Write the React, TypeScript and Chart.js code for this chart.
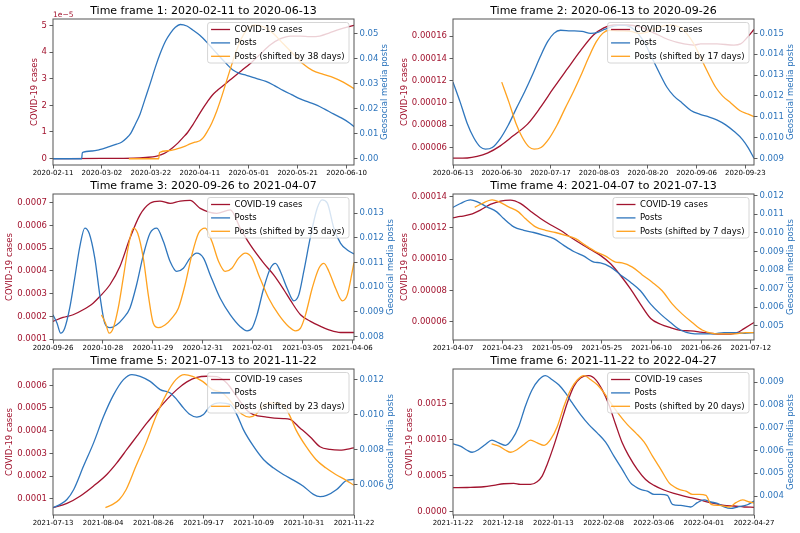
import React, { useEffect, useRef } from "react";
import { Chart, registerables } from "chart.js";

Chart.register(...registerables);
Chart.defaults.font.family = "'DejaVu Sans', sans-serif";

// ---------------- DATA ----------------
const startDates = ["2020-02-11", "2020-06-13", "2020-09-26", "2021-04-07", "2021-07-13", "2021-11-22"];
const endDates = ["2020-06-13", "2020-09-26", "2021-04-07", "2021-07-13", "2021-11-22", "2022-04-27"];
const shiftDays = [38, 17, 35, 7, 23, 20];
const leftAxisTitle = "COVID-19 cases";
const rightAxisTitle = "Geosocial media posts";

const xLabels1 = ["2020-02-11", "2020-03-02", "2020-03-22", "2020-04-11", "2020-05-01", "2020-05-21", "2020-06-10"];
const xLabels2 = ["2020-06-13", "2020-06-30", "2020-07-17", "2020-08-03", "2020-08-20", "2020-09-06", "2020-09-23"];
const xLabels3 = ["2020-09-26", "2020-10-28", "2020-11-29", "2020-12-31", "2021-02-01", "2021-03-05", "2021-04-06"];
const xLabels4 = ["2021-04-07", "2021-04-23", "2021-05-09", "2021-05-25", "2021-06-10", "2021-06-26", "2021-07-12"];
const xLabels5 = ["2021-07-13", "2021-08-04", "2021-08-26", "2021-09-17", "2021-10-09", "2021-10-31", "2021-11-22"];
const xLabels6 = ["2021-11-22", "2021-12-18", "2022-01-13", "2022-02-08", "2022-03-06", "2022-04-01", "2022-04-27"];

// cases values are in the panel's unit (see casesUnit), posts in units of 1e-3
const casesUnit = [1e-5, 1e-5, 1e-4, 1e-5, 1e-4, 1e-4];

const casesTicks1 = [0, 1, 2, 3, 4, 5];
const casesTickLabels1 = ["0", "1", "2", "3", "4", "5"];
const postsTicks1 = [0, 10, 20, 30, 40, 50];
const postsTickLabels1 = ["0.00", "0.01", "0.02", "0.03", "0.04", "0.05"];
const casesTicks2 = [6, 8, 10, 12, 14, 16];
const casesTickLabels2 = ["0.00006", "0.00008", "0.00010", "0.00012", "0.00014", "0.00016"];
const postsTicks2 = [9, 10, 11, 12, 13, 14, 15];
const postsTickLabels2 = ["0.009", "0.010", "0.011", "0.012", "0.013", "0.014", "0.015"];
const casesTicks3 = [1, 2, 3, 4, 5, 6, 7];
const casesTickLabels3 = ["0.0001", "0.0002", "0.0003", "0.0004", "0.0005", "0.0006", "0.0007"];
const postsTicks3 = [8, 9, 10, 11, 12, 13];
const postsTickLabels3 = ["0.008", "0.009", "0.010", "0.011", "0.012", "0.013"];
const casesTicks4 = [6, 8, 10, 12, 14];
const casesTickLabels4 = ["0.00006", "0.00008", "0.00010", "0.00012", "0.00014"];
const postsTicks4 = [5, 6, 7, 8, 9, 10, 11, 12];
const postsTickLabels4 = ["0.005", "0.006", "0.007", "0.008", "0.009", "0.010", "0.011", "0.012"];
const casesTicks5 = [1, 2, 3, 4, 5, 6];
const casesTickLabels5 = ["0.0001", "0.0002", "0.0003", "0.0004", "0.0005", "0.0006"];
const postsTicks5 = [6, 8, 10, 12];
const postsTickLabels5 = ["0.006", "0.008", "0.010", "0.012"];
const casesTicks6 = [0, 5, 10, 15];
const casesTickLabels6 = ["0.0000", "0.0005", "0.0010", "0.0015"];
const postsTicks6 = [4, 5, 6, 7, 8, 9];
const postsTickLabels6 = ["0.004", "0.005", "0.006", "0.007", "0.008", "0.009"];

const casesRange = [[-0.24, 5.24], [4.43, 17.54], [0.96, 7.38], [4.82, 14.17], [0.28, 6.72], [-0.42, 19.85]];
const postsRange = [[-2.5, 55.8], [8.68, 15.69], [7.86, 13.78], [4.24, 12.09], [4.25, 12.61], [3.17, 9.57]];

// [day offset from panel start, value]
const cases1 = [[0,0],[20,0.005],[33,0.02],[38,0.045],[42,0.08],[44,0.14],[46,0.22],[49,0.42],[51,0.58],[53,0.78],[55,0.98],[57,1.25],[59,1.55],[61,1.85],[63,2.12],[65,2.37],[67,2.55],[69,2.7],[71,2.85],[73,3.0],[77,3.3],[81,3.6],[85,3.95],[89,4.28],[93,4.5],[97,4.6],[101,4.6],[105,4.58],[109,4.6],[113,4.72],[117,4.85],[123,5.0]];
const posts1 = [[0,0],[11.7,0],[12,2.5],[16,3.1],[19,3.6],[23,4.8],[26,5.8],[28,6.6],[30,8.2],[31.6,9.9],[33.5,13.5],[35.6,17.9],[37.5,23.5],[39.7,30],[41.8,36.5],[43.8,42],[46,47],[48,50.2],[50,52.5],[52,53.6],[54.7,53],[57,51.5],[60,49.3],[63.5,45.8],[67,42],[70.5,38.3],[73.7,35.3],[76.5,34],[79,33.3],[83,32.1],[87,30.9],[90.5,29.2],[94,27.3],[97.5,25.6],[101,23.9],[104.5,22.6],[108,21.3],[111,19.8],[114.6,17.9],[118,16.2],[121,14.4],[123,12.8]];
const shifted1 = [[31,0],[43.2,0],[43.5,2.5],[47,3.2],[50.6,3.9],[53.5,4.8],[56,5.9],[58,6.6],[60,7.2],[61.5,8.5],[62.9,10.6],[65,14.5],[67,19.3],[69,25],[71,31.3],[73,37.5],[75,43.3],[77,48],[79,51.3],[81,53],[82.6,53.3],[86,52.7],[90,50],[94,46],[98,42],[102,38],[106,35.3],[110.5,33.7],[114.6,32.4],[118.6,30.6],[123,28]];

const cases2 = [[0,5.04],[5,5.06],[8.4,5.2],[12,5.5],[16.5,6.15],[21,7.05],[26,8.1],[30.5,9.6],[35,11.3],[40,13.1],[44.5,14.7],[49,16.1],[52.6,16.75],[56,17.0],[61,17.0],[65.4,16.8],[70,16.3],[75,15.7],[80.6,15.3],[84,15.2],[86.4,15.3],[92,15.3],[98,15.2],[100.3,15.3],[102.7,15.9],[105,16.6]];
const posts2 = [[0,12.66],[2.5,11.7],[4.9,10.7],[7.2,10.0],[9.5,9.55],[11.3,9.44],[13.7,9.52],[16.5,9.95],[19.3,10.6],[22.1,11.4],[25,12.2],[28,13.1],[30.5,13.9],[33,14.6],[35.2,15.0],[37.5,15.15],[41,15.12],[45,15.1],[48,15.0],[50.5,15.05],[53,15.2],[56,15.35],[59,15.4],[62,15.3],[64.5,15.0],[67,14.5],[69.5,13.8],[72,13.1],[74.7,12.4],[77,12.0],[80,11.65],[83,11.3],[86,11.12],[89,11.0],[92,10.85],[95,10.62],[98,10.3],[101,9.9],[103,9.5],[105,9.0]];
const shifted2 = [[17,12.66],[19.5,11.7],[21.9,10.7],[24.2,10.0],[26.5,9.55],[28.3,9.44],[30.7,9.52],[33.5,9.95],[36.3,10.6],[39.1,11.4],[42,12.2],[45,13.1],[47.5,13.9],[50,14.6],[52.2,15.0],[54.5,15.15],[58,15.12],[62,15.1],[65,15.0],[67.5,15.05],[70,15.2],[73,15.35],[76,15.4],[79,15.3],[81.5,15.0],[84,14.5],[86.5,13.8],[89,13.1],[91.7,12.4],[94,12.0],[97,11.65],[100,11.3],[103,11.12],[105,11.0]];

const cases3 = [[0,1.78],[6.4,1.95],[12.9,2.07],[19.3,2.29],[25.7,2.58],[30,2.87],[36.5,3.39],[42.9,4.19],[49.3,5.43],[55.8,6.46],[62.2,6.97],[68.6,7.07],[75.1,6.97],[81.5,7.07],[87.9,7.1],[94.4,6.75],[105,6.53],[113.7,6.68],[120.1,5.87],[126.5,5.14],[135.1,4.34],[141.5,3.82],[148,3.17],[152.3,2.7],[158.7,2.07],[165.1,1.78],[171.6,1.56],[178,1.38],[184.4,1.29],[193,1.29]];
const posts3 = [[0,8.88],[2.6,8.54],[4.9,8.14],[7.5,8.34],[10.7,9.15],[13.9,10.36],[17.2,11.65],[20.4,12.4],[23.2,12.19],[26.8,11.18],[30,9.69],[33.2,8.54],[36.5,8.36],[40.7,8.47],[45,8.74],[49.3,9.15],[53.6,10.1],[57.9,11.3],[62.2,12.19],[66.5,12.4],[70.8,11.85],[75.1,11.04],[79.3,10.64],[83.6,10.77],[87.9,11.18],[92.2,11.38],[96.5,11.18],[100.8,10.5],[107.2,9.55],[113.7,8.88],[120.1,8.4],[124.4,8.23],[127.6,8.34],[130.8,8.88],[135.1,9.96],[139.4,10.77],[142.6,10.97],[145.8,10.64],[150.1,9.96],[154.4,9.45],[157.6,9.69],[160.8,10.64],[165.1,12.05],[169.4,13.2],[172.6,13.54],[175.9,13.41],[180.1,12.39],[184.4,11.78],[188.7,11.51],[193,11.35]];
const shifted3 = [[31.1,8.88],[33.7,8.54],[36,8.14],[38.6,8.34],[41.8,9.15],[45,10.36],[48.3,11.65],[51.5,12.4],[54.3,12.19],[57.9,11.18],[61.1,9.69],[64.3,8.54],[67.6,8.36],[71.8,8.47],[76.1,8.74],[80.4,9.15],[84.7,10.1],[89,11.3],[93.3,12.19],[97.6,12.4],[101.9,11.85],[106.2,11.04],[110.4,10.64],[114.7,10.77],[119,11.18],[123.3,11.38],[127.6,11.18],[131.9,10.5],[138.3,9.55],[144.8,8.88],[151.2,8.4],[155.5,8.23],[158.7,8.34],[161.9,8.88],[166.2,9.96],[170.5,10.77],[173.7,10.97],[176.9,10.64],[181.2,9.96],[185.5,9.45],[188.7,9.69],[191.9,10.64],[193,11.0]];

const cases4 = [[0,12.65],[2.4,12.73],[5.6,12.86],[8.8,13.14],[12,13.5],[15.3,13.72],[18.5,13.78],[21.7,13.57],[24.9,13.08],[28.2,12.6],[31.4,12.2],[34.6,11.85],[37.8,11.42],[41.1,11.0],[44.3,10.62],[47.5,10.24],[50.8,9.7],[54,8.95],[57.2,8.09],[60.4,7.12],[63.7,6.2],[66.9,5.83],[70.1,5.61],[73.3,5.44],[76.6,5.4],[79.8,5.33],[83,5.25],[86.2,5.2],[89.5,5.2],[91.6,5.29],[93.8,5.55],[97,5.94]];
const posts4 = [[0,11.37],[2.4,11.58],[5.6,11.77],[7.7,11.68],[10.9,11.4],[14.1,11.13],[16.3,10.77],[19.6,10.32],[22.8,10.14],[26,10.02],[29.2,9.87],[32.5,9.69],[35.7,9.33],[38.9,9.0],[42.2,8.75],[45.4,8.43],[47.5,8.39],[50.8,8.16],[54,7.74],[57.2,7.35],[60.4,6.89],[63.7,6.17],[66.9,5.63],[70.1,5.18],[73.3,4.78],[76.6,4.6],[79.8,4.57],[84.1,4.57],[87.3,4.64],[90.5,4.64],[93.8,4.6],[97,4.64]];
const shifted4 = [[7,11.37],[9.4,11.58],[12.6,11.77],[14.7,11.68],[17.9,11.4],[21.1,11.13],[23.3,10.77],[26.6,10.32],[29.8,10.14],[33,10.02],[36.2,9.87],[39.5,9.69],[42.7,9.33],[45.9,9.0],[49.2,8.75],[52.4,8.43],[54.5,8.39],[57.8,8.16],[61,7.74],[64.2,7.35],[67.4,6.89],[70.7,6.17],[73.9,5.63],[77.1,5.18],[80.3,4.78],[83.6,4.6],[86.8,4.57],[91.1,4.57],[94.3,4.64],[97,4.64]];

const cases5 = [[0,0.6],[6.1,0.79],[12,1.12],[17.8,1.56],[23.6,2.07],[28,2.58],[32.4,3.17],[36.8,3.76],[41.2,4.34],[45.5,4.86],[49.9,5.37],[54.3,5.81],[58.7,6.15],[63.1,6.35],[67.4,6.4],[71.8,6.38],[76.2,6.1],[80.6,5.5],[85,4.9],[87.9,4.71],[93.7,4.6],[101,4.53],[103.9,4.5],[108.3,4.12],[112.7,3.73],[117.1,3.29],[121.5,3.17],[125.8,3.14],[132,3.24]];
const posts5 = [[0,4.67],[3.2,4.86],[6.1,5.14],[9.1,5.71],[13.4,7.05],[17.8,8.38],[22.2,9.9],[26.6,11.14],[30.9,12.0],[34.6,12.29],[38.2,12.19],[42.6,11.9],[47,11.43],[51.4,11.24],[54.3,10.86],[57.2,10.38],[60.1,10.0],[63.1,9.85],[66,10.0],[68.9,10.48],[73.3,10.67],[77.7,10.57],[80.6,10.0],[83.5,9.14],[87.9,8.19],[92.3,7.43],[96.6,6.95],[101,6.57],[105.4,6.25],[109.8,5.9],[114.2,5.43],[117.1,5.3],[120,5.37],[124.4,5.71],[128.8,6.23],[132,6.29]];
const shifted5 = [[23,4.67],[26.2,4.86],[29.1,5.14],[32.1,5.71],[36.4,7.05],[40.8,8.38],[45.2,9.9],[49.6,11.14],[53.9,12.0],[57.6,12.29],[61.2,12.19],[65.6,11.9],[70,11.43],[74.4,11.24],[77.3,10.86],[80.2,10.38],[83.1,10.0],[86.1,9.85],[89,10.0],[91.9,10.48],[96.3,10.67],[100.7,10.57],[103.6,10.0],[106.5,9.14],[110.9,8.19],[115.3,7.43],[119.6,6.95],[124,6.57],[128.4,6.25],[132,5.95]];

const cases6 = [[0,3.37],[7.3,3.4],[15.9,3.5],[21.1,3.69],[26.3,3.92],[31.5,3.97],[34.9,3.83],[40.1,3.83],[43.6,4.2],[46.2,4.98],[48.8,6.6],[52.2,9.14],[55.7,12.14],[59.2,15.14],[62.6,17.44],[66.1,18.6],[70.4,18.92],[73.9,18.37],[77.3,16.98],[80.8,14.9],[84.3,12.14],[87.7,9.6],[91.2,7.75],[95.5,5.91],[99.8,4.52],[104.2,3.69],[109.3,3.05],[114.5,2.58],[119.7,2.2],[124.9,1.89],[130.1,1.52],[135.3,1.2],[140.5,0.92],[145.7,0.83],[150.9,0.69],[156,0.65]];
const posts6 = [[0,6.29],[3.8,6.19],[7.3,6.01],[9.9,5.92],[13.3,6.04],[16.8,6.26],[20.2,6.45],[23.7,6.33],[27.2,6.22],[30.6,6.48],[34.1,7.06],[37.5,7.94],[41,8.66],[44.5,9.1],[47.9,9.28],[51.4,9.1],[54.8,8.88],[58.3,8.52],[61.8,8.08],[66.1,7.57],[70.4,7.13],[74.7,6.77],[79.1,6.36],[83.4,5.75],[87.7,5.17],[92,4.58],[94.6,4.41],[97.2,4.29],[100.7,4.22],[104.2,4.07],[107.6,4.07],[111.1,4.03],[113.7,3.64],[118,3.59],[123.2,3.52],[126.6,3.71],[130.1,3.83],[133.6,3.74],[137,3.68],[140.5,3.53],[143.9,3.46],[147.4,3.52],[152.6,3.62],[156,3.78]];
const shifted6 = [[20,6.29],[23.8,6.19],[27.3,6.01],[29.9,5.92],[33.3,6.04],[36.8,6.26],[40.2,6.45],[43.7,6.33],[47.2,6.22],[50.6,6.48],[54.1,7.06],[57.5,7.94],[61,8.66],[64.5,9.1],[67.9,9.28],[71.4,9.1],[74.8,8.88],[78.3,8.52],[81.8,8.08],[86.1,7.57],[90.4,7.13],[94.7,6.77],[99.1,6.36],[103.4,5.75],[107.7,5.17],[112,4.58],[114.6,4.41],[117.2,4.29],[120.7,4.22],[124.2,4.07],[127.6,4.07],[131.1,4.03],[133.7,3.64],[138,3.59],[143.2,3.52],[146.6,3.71],[150.1,3.83],[153.6,3.74],[156,3.7]];

// ---------------- TABLE ----------------
const PANELS = [
  { xl: xLabels1, c: cases1, p: posts1, s: shifted1, ct: casesTicks1, cl: casesTickLabels1, pt: postsTicks1, pl: postsTickLabels1, offset: "1e\u22125" },
  { xl: xLabels2, c: cases2, p: posts2, s: shifted2, ct: casesTicks2, cl: casesTickLabels2, pt: postsTicks2, pl: postsTickLabels2, offset: "" },
  { xl: xLabels3, c: cases3, p: posts3, s: shifted3, ct: casesTicks3, cl: casesTickLabels3, pt: postsTicks3, pl: postsTickLabels3, offset: "" },
  { xl: xLabels4, c: cases4, p: posts4, s: shifted4, ct: casesTicks4, cl: casesTickLabels4, pt: postsTicks4, pl: postsTickLabels4, offset: "" },
  { xl: xLabels5, c: cases5, p: posts5, s: shifted5, ct: casesTicks5, cl: casesTickLabels5, pt: postsTicks5, pl: postsTickLabels5, offset: "" },
  { xl: xLabels6, c: cases6, p: posts6, s: shifted6, ct: casesTicks6, cl: casesTickLabels6, pt: postsTicks6, pl: postsTickLabels6, offset: "" },
];

// ---------------- STYLE ----------------
const RED = "#a2142f";
const BLUE = "#2f76bd";
const ORANGE = "#ffa21f";
const LEFT_TITLE_PAD = [30, 0, 4.5, 0, 5, 5];
const RIGHT_TITLE_X = [385, 390.5, 390.5, 390.5, 390.5, 390.5];
const CW = 400;
const CH = 178;

const dayDiff = (a: string, b: string) => Math.round((Date.parse(b) - Date.parse(a)) / 864e5);

const framePlugin = {
  id: "frame",
  afterDatasetsDraw(chart: any) {
    const { ctx, chartArea: a } = chart;
    ctx.save();
    ctx.strokeStyle = "#555";
    ctx.lineWidth = 1;
    ctx.strokeRect(a.left, a.top, a.right - a.left, a.bottom - a.top);
    ctx.restore();
  },
};

const legendPlugin = {
  id: "boxLegend",
  afterDatasetsDraw(chart: any) {
    const { ctx, chartArea: a } = chart;
    ctx.save();
    ctx.font = "8.5px 'DejaVu Sans'";
    const items = chart.data.datasets.map((d: any) => ({ text: d.label, color: d.borderColor }));
    const tw = Math.max(...items.map((i: any) => ctx.measureText(i.text).width));
    const w = 27 + tw + 4.5;
    const h = 40.5;
    const x = a.right - 5 - w;
    const y = a.top + 3.5;
    ctx.beginPath();
    if ((ctx as any).roundRect) (ctx as any).roundRect(x, y, w, h, 2.5);
    else ctx.rect(x, y, w, h);
    ctx.fillStyle = "rgba(255,255,255,0.8)";
    ctx.fill();
    ctx.strokeStyle = "#cccccc";
    ctx.lineWidth = 0.8;
    ctx.stroke();
    items.forEach((it: any, i: number) => {
      const cy = y + 7 + i * 13.4;
      ctx.strokeStyle = it.color;
      ctx.lineWidth = 1.3;
      ctx.beginPath();
      ctx.moveTo(x + 3.5, cy);
      ctx.lineTo(x + 22.5, cy);
      ctx.stroke();
      ctx.fillStyle = "#000";
      ctx.textBaseline = "middle";
      ctx.textAlign = "left";
      ctx.fillText(it.text, x + 27, cy);
    });
    ctx.restore();
  },
};

function buildConfig(i: number): any {
  const P = PANELS[i];
  const start = startDates[i];
  const xMax = dayDiff(start, endDates[i]);
  const xTickVals = P.xl.map((l) => dayDiff(start, l));
  const toPts = (arr: number[][]) => arr.map(([x, y]) => ({ x, y }));
  const line = (label: string, arr: number[][], color: string, axis: string, order: number) => ({
    label,
    data: toPts(arr),
    yAxisID: axis,
    borderColor: color,
    backgroundColor: color,
    borderWidth: 1.3,
    pointRadius: 0,
    cubicInterpolationMode: "monotone",
    fill: false,
    order,
  });
  const extraTextPlugin = {
    id: "extraText",
    afterDraw(chart: any) {
      const { ctx, chartArea: a } = chart;
      ctx.save();
      // right axis title, reading bottom-to-top
      ctx.font = "8.5px 'DejaVu Sans'";
      ctx.fillStyle = BLUE;
      ctx.textAlign = "center";
      ctx.textBaseline = "middle";
      ctx.translate(RIGHT_TITLE_X[i], (a.top + a.bottom) / 2);
      ctx.rotate(-Math.PI / 2);
      ctx.fillText(rightAxisTitle, 0, 0);
      ctx.restore();
      if (P.offset) {
        ctx.save();
        ctx.font = "7.5px 'DejaVu Sans'";
        ctx.fillStyle = RED;
        ctx.textAlign = "left";
        ctx.textBaseline = "alphabetic";
        ctx.fillText(P.offset, a.left, a.top - 2.5);
        ctx.restore();
      }
    },
  };
  const grid = { drawOnChartArea: false, drawTicks: true, tickLength: 3.5, color: "#333", lineWidth: 0.8 };
  return {
    type: "line",
    data: {
      datasets: [
        line("COVID-19 cases", P.c, RED, "y", 3),
        line("Posts", P.p, BLUE, "y1", 2),
        line(`Posts (shifted by ${shiftDays[i]} days)`, P.s, ORANGE, "y1", 1),
      ],
    },
    options: {
      animation: false,
      responsive: false,
      maintainAspectRatio: false,
      events: [],
      layout: { padding: 0 },
      plugins: {
        legend: { display: false },
        tooltip: { enabled: false },
        title: {
          display: true,
          text: `Time frame ${i + 1}: ${start} to ${endDates[i]}`,
          fullSize: false,
          color: "#000",
          font: { size: 11, weight: "normal" },
          padding: { top: 5, bottom: 0.8 },
        },
      },
      scales: {
        x: {
          type: "linear",
          min: 0,
          max: xMax,
          afterBuildTicks: (s: any) => {
            s.ticks = xTickVals.map((v) => ({ value: v }));
          },
          afterFit: (s: any) => {
            s.height = 13;
          },
          ticks: {
            callback: (_v: any, idx: number) => P.xl[idx],
            font: { size: 7 },
            color: "#000",
            padding: 0.5,
            autoSkip: false,
            maxRotation: 0,
            minRotation: 0,
          },
          grid,
          border: { display: false },
        },
        y: {
          type: "linear",
          position: "left",
          min: casesRange[i][0],
          max: casesRange[i][1],
          afterBuildTicks: (s: any) => {
            s.ticks = P.ct.map((v) => ({ value: v }));
          },
          afterFit: (s: any) => {
            s.width = 53;
          },
          ticks: {
            callback: (_v: any, idx: number) => P.cl[idx],
            font: { size: 8.5 },
            color: RED,
            padding: 2.5,
          },
          grid,
          border: { display: false },
          title: {
            display: true,
            text: leftAxisTitle,
            color: RED,
            font: { size: 8.5 },
            padding: { top: LEFT_TITLE_PAD[i], bottom: 0 },
          },
        },
        y1: {
          type: "linear",
          position: "right",
          min: postsRange[i][0],
          max: postsRange[i][1],
          afterBuildTicks: (s: any) => {
            s.ticks = P.pt.map((v) => ({ value: v }));
          },
          afterFit: (s: any) => {
            s.width = CW - 354;
          },
          ticks: {
            callback: (_v: any, idx: number) => P.pl[idx],
            font: { size: 8.5 },
            color: BLUE,
            padding: 2,
          },
          grid,
          border: { display: false },
          title: { display: false },
        },
      },
    },
    plugins: [framePlugin, legendPlugin, extraTextPlugin],
  };
}

function Panel({ idx }: { idx: number }) {
  const ref = useRef<HTMLCanvasElement>(null);
  useEffect(() => {
    if (!ref.current) return;
    const chart = new Chart(ref.current, buildConfig(idx));
    return () => chart.destroy();
  }, [idx]);
  const col = idx % 2;
  const row = Math.floor(idx / 2);
  return (
    <canvas
      ref={ref}
      width={CW}
      height={CH}
      style={{ position: "absolute", left: col * 400, top: row * 175, width: CW, height: CH }}
    />
  );
}

export default function App() {
  return (
    <div
      style={{
        position: "fixed",
        left: 0,
        top: 0,
        width: 800,
        height: 533,
        background: "#fff",
        overflow: "hidden",
      }}
    >
      {PANELS.map((_, i) => (
        <Panel key={i} idx={i} />
      ))}
    </div>
  );
}
